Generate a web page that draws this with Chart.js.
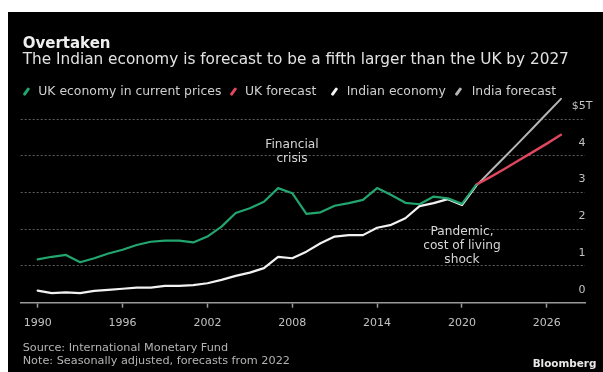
<!DOCTYPE html>
<html>
<head>
<meta charset="utf-8">
<script src="https://cdn.jsdelivr.net/npm/chart.js@4.4.0/dist/chart.umd.min.js"></script>
<style>
    html, body { margin: 0; padding: 0; background: #fff; }
    body { width: 603px; height: 372px; position: relative; overflow: hidden; font-family: "DejaVu Sans", sans-serif; }
    #panel { position: absolute; left: 8px; top: 12px; right: 0; bottom: 0; background: #000; }
    #chartBox { position: absolute; left: 0; top: 0; width: 603px; height: 372px; }
    .txt { position: absolute; white-space: nowrap; line-height: 1; }
    .title { left: 22.7px; top: 35.6px; font-size: 15px; font-weight: bold; color: #efefef; }
    .subtitle { left: 22.7px; top: 52.1px; font-size: 15.3px; color: #e2e2e2; }
    .legend { top: 85px; font-size: 12.4px; color: #cfcfcf; }
    .mk { position: absolute; top: 86.5px; width: 2.6px; height: 9px; border-radius: 1px; transform: rotate(35deg); }
    .note { left: 22.7px; font-size: 11.25px; color: #b4b4b4; }
    .anno { width: 200px; text-align: center; font-size: 12.2px; line-height: 14px; color: #d6d6d6; white-space: normal; }
    .brand { left: 532.7px; top: 357.5px; font-size: 10.4px; font-weight: bold; color: #e8e8e8; }
</style>
</head>
<body>
<div id="panel"></div>
<div id="chartBox"><canvas id="gdpChart" width="603" height="372"></canvas></div>

<div class="txt title">Overtaken</div>
<div class="txt subtitle">The Indian economy is forecast to be a fifth larger than the UK by 2027</div>

<span class="mk" style="left:25px; background:#22a56f"></span>
<div class="txt legend" style="left:38.3px">UK economy in current prices</div>
<span class="mk" style="left:232px; background:#e0475f"></span>
<div class="txt legend" style="left:245px">UK forecast</div>
<span class="mk" style="left:333px; background:#f2f2f2"></span>
<div class="txt legend" style="left:346.7px">Indian economy</div>
<span class="mk" style="left:457px; background:#b4b4b4"></span>
<div class="txt legend" style="left:471.7px">India forecast</div>

<div class="txt anno" style="left:192px; top:137.2px">Financial<br>crisis</div>
<div class="txt anno" style="left:362px; top:223.6px">Pandemic,<br>cost of living<br>shock</div>

<div class="txt note" style="top:341.7px">Source: International Monetary Fund</div>
<div class="txt note" style="top:355.4px">Note: Seasonally adjusted, forecasts from 2022</div>
<div class="txt brand">Bloomberg</div>

<script>
// GDP in current US$ trillions
const years = [1990, 1991, 1992, 1993, 1994, 1995, 1996, 1997, 1998, 1999,
               2000, 2001, 2002, 2003, 2004, 2005, 2006, 2007, 2008, 2009,
               2010, 2011, 2012, 2013, 2014, 2015, 2016, 2017, 2018, 2019,
               2020, 2021];
const ukValues = [1.18, 1.25, 1.30, 1.10, 1.21, 1.34, 1.44, 1.57, 1.66, 1.69,
                  1.69, 1.64, 1.80, 2.07, 2.44, 2.57, 2.75, 3.12, 2.98, 2.42,
                  2.46, 2.64, 2.71, 2.80, 3.12, 2.93, 2.72, 2.68, 2.89, 2.84,
                  2.69, 3.21];
const indiaValues = [0.33, 0.26, 0.28, 0.26, 0.32, 0.35, 0.38, 0.41, 0.41, 0.46,
                     0.46, 0.48, 0.53, 0.62, 0.73, 0.82, 0.94, 1.25, 1.21, 1.39,
                     1.62, 1.80, 1.84, 1.84, 2.04, 2.12, 2.30, 2.63, 2.71, 2.82,
                     2.66, 3.18];

const forecastYears = [2021, 2022, 2023, 2024, 2025, 2026, 2027];
const ukForecast = [3.21, 3.42, 3.64, 3.87, 4.10, 4.33, 4.57];
const indiaForecast = [3.18, 3.57, 3.96, 4.35, 4.75, 5.15, 5.55];

const xTickYears = [1990, 1996, 2002, 2008, 2014, 2020, 2026];
const yTickValues = [0, 1, 2, 3, 4, 5];
const yTickLabels = ['0', '1', '2', '3', '4', '$5T'];

// pair up years and values for the linear x scale
function toPoints(xs, ys) {
    return xs.map(function(x, i) {
        return { x: x, y: ys[i] };
    });
}

const ctx = document.getElementById('gdpChart');

new Chart(ctx, {
    type: 'line',
    data: {
        datasets: [
            {
                label: 'UK economy in current prices',
                data: toPoints(years, ukValues),
                borderColor: '#22a56f',
                borderWidth: 2.2
            },
            {
                label: 'UK forecast',
                data: toPoints(forecastYears, ukForecast),
                borderColor: '#e0475f',
                borderWidth: 2.4
            },
            {
                label: 'Indian economy',
                data: toPoints(years, indiaValues),
                borderColor: '#f2f2f2',
                borderWidth: 2.2
            },
            {
                label: 'India forecast',
                data: toPoints(forecastYears, indiaForecast),
                borderColor: '#b4b4b4',
                borderWidth: 2
            }
        ]
    },
    options: {
        responsive: false,
        animation: false,
        devicePixelRatio: 1,
        layout: {
            padding: { left: 20.7, right: 18, top: 97, bottom: 43.3 }
        },
        elements: {
            point: { radius: 0 },
            line: { tension: 0, borderJoinStyle: 'round', borderCapStyle: 'round' }
        },
        plugins: {
            legend: { display: false },
            tooltip: { enabled: false }
        },
        scales: {
            x: {
                type: 'linear',
                min: 1988.8,
                max: 2028.7,
                afterBuildTicks: function(scale) {
                    scale.ticks = xTickYears.map(function(v) { return { value: v }; });
                },
                // fixed axis height so the plot bottom lands where the original's does
                afterFit: function(scale) { scale.height = 26; },
                grid: {
                    drawOnChartArea: false,
                    drawTicks: true,
                    tickLength: 5,
                    tickColor: '#9a9a9a',
                    tickWidth: 1.5
                },
                border: { display: true, color: '#9a9a9a', width: 1.5 },
                ticks: {
                    autoSkip: false,
                    maxRotation: 0,
                    padding: 8.5,
                    color: '#c2c2c2',
                    font: { family: 'DejaVu Sans', size: 11 },
                    callback: function(value) { return String(value); }
                }
            },
            y: {
                type: 'linear',
                position: 'right',
                min: 0,
                max: 5.6,
                afterBuildTicks: function(scale) {
                    scale.ticks = yTickValues.map(function(v) { return { value: v }; });
                },
                // labels sit inside the plot, so the axis takes no room
                afterFit: function(scale) { scale.width = 0; },
                grid: {
                    drawTicks: false,
                    lineWidth: 1,
                    color: function(c) {
                        return c.tick && c.tick.value === 0 ? 'rgba(0,0,0,0)' : '#5e5e5e';
                    }
                },
                border: { display: false, dash: [2, 2] },
                ticks: {
                    mirror: true,
                    crossAlign: 'center',
                    padding: 7.4,
                    labelOffset: -13,
                    color: '#c2c2c2',
                    font: { family: 'DejaVu Sans', size: 11 },
                    callback: function(value, index) { return yTickLabels[index]; }
                }
            }
        }
    }
});
</script>
</body>
</html>
